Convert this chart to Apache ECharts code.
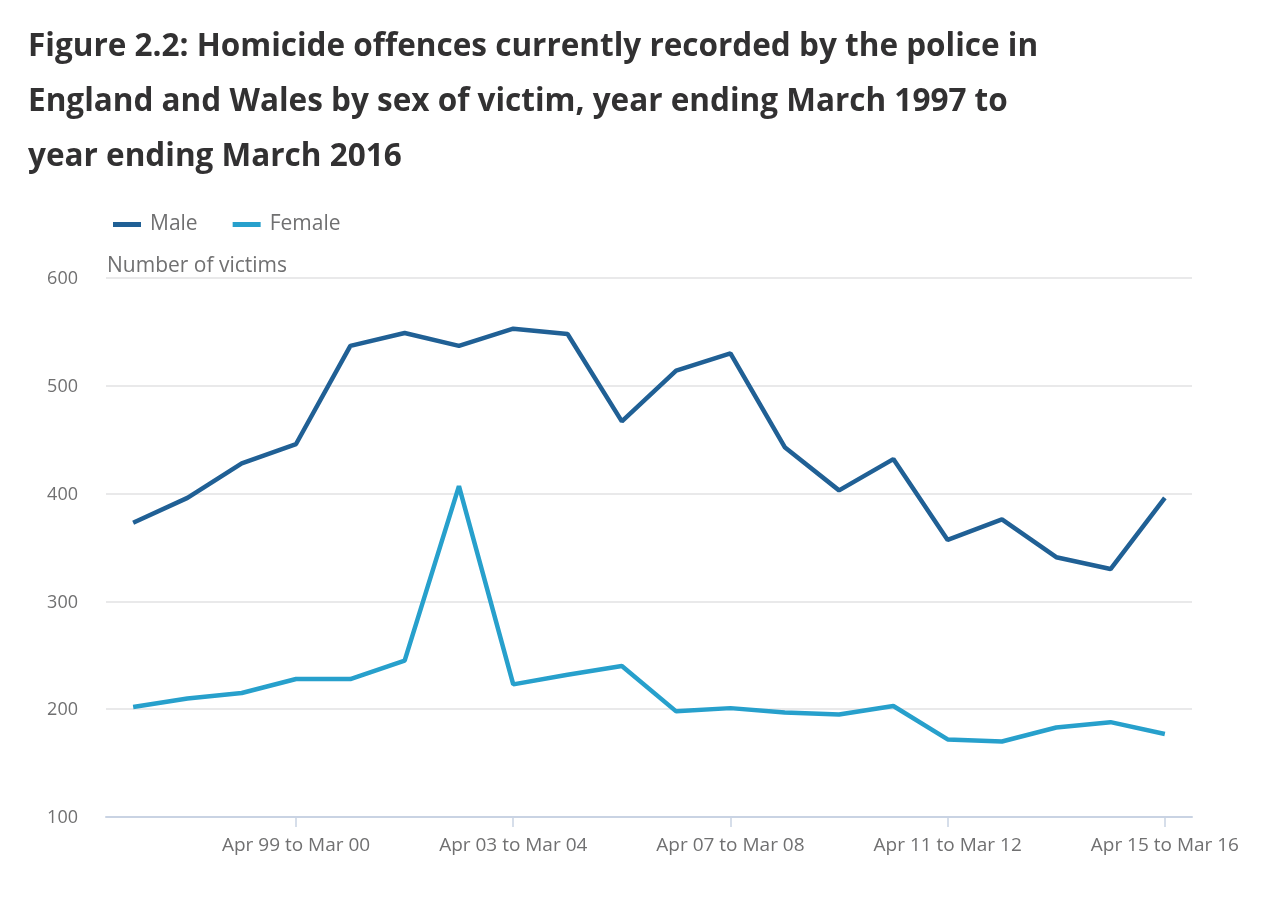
<!DOCTYPE html>
<html>
<head>
<meta charset="utf-8">
<script src="https://cdn.jsdelivr.net/npm/echarts@6/dist/echarts.min.js"></script>
<style>
html,body{margin:0;padding:0;background:#fff;}
#chart{width:1276px;height:906px;}
</style>
</head>
<body>
<div id="chart"></div>
<script>
const categories = [
  "Apr 96 to Mar 97","Apr 97 to Mar 98","Apr 98 to Mar 99","Apr 99 to Mar 00",
  "Apr 00 to Mar 01","Apr 01 to Mar 02","Apr 02 to Mar 03","Apr 03 to Mar 04",
  "Apr 04 to Mar 05","Apr 05 to Mar 06","Apr 06 to Mar 07","Apr 07 to Mar 08",
  "Apr 08 to Mar 09","Apr 09 to Mar 10","Apr 10 to Mar 11","Apr 11 to Mar 12",
  "Apr 12 to Mar 13","Apr 13 to Mar 14","Apr 14 to Mar 15","Apr 15 to Mar 16"
];
const maleVictims = [373, 396, 428, 446, 537, 549, 537, 553, 548, 467, 514, 530, 443, 403, 432, 357, 376, 341, 330, 396];
const femaleVictims = [202, 210, 215, 228, 228, 245, 407, 223, 232, 240, 198, 201, 197, 195, 203, 172, 170, 183, 188, 177];
const yTicks = [100, 200, 300, 400, 500, 600];

const chart = echarts.init(document.getElementById('chart'), null, {renderer: 'canvas'});
const FONT = '"Open Sans", sans-serif';
chart.setOption({
  animation: false,
  textStyle: {fontFamily: FONT},
  title: {
    text: 'Figure 2.2: Homicide offences currently recorded by the police in\nEngland and Wales by sex of victim, year ending March 1997 to\nyear ending March 2016',
    left: 28, top: 20, padding: 0,
    textStyle: {fontFamily: FONT, fontWeight: 'bold', fontSize: 31.5, lineHeight: 55, color: '#323132'}
  },
  legend: {
    left: 108, top: 209,
    itemWidth: 28, itemHeight: 5, itemGap: 35,
    icon: 'rect',
    textStyle: {fontFamily: FONT, fontSize: 21, color: '#707071', padding: [0,0,0,4]},
    data: ['Male', 'Female']
  },
  graphic: [{
    type: 'text', left: 107, top: 256,
    style: {text: 'Number of victims', font: '21px "Open Sans", sans-serif', fill: '#707071'}
  }],
  grid: {left: 106, right: 84, top: 278, bottom: 89, containLabel: false},
  xAxis: {
    type: 'category',
    data: categories,
    boundaryGap: true,
    axisLine: {lineStyle: {color: '#c9d3e3', width: 2}},
    axisTick: {show: true, alignWithLabel: true, length: 10, interval: (i) => i % 4 === 3, lineStyle: {color: '#c9d3e3', width: 1.5}},
    axisLabel: {interval: (i) => i % 4 === 3, fontFamily: FONT, fontSize: 19, color: '#707071', margin: 19}
  },
  yAxis: {
    type: 'value',
    min: yTicks[0], max: yTicks[yTicks.length - 1], interval: 100,
    axisLine: {show: false},
    axisTick: {show: false},
    splitLine: {lineStyle: {color: '#e2e2e3', width: 1.5}},
    axisLabel: {fontFamily: FONT, fontSize: 18, color: '#707071', margin: 28, verticalAlign: 'top', padding: [-8,0,0,0]}
  },
  series: [
    {name: 'Male', type: 'line', data: maleVictims, showSymbol: false, symbol: 'none',
     lineStyle: {color: '#206095', width: 4.5}, itemStyle: {color: '#206095'}},
    {name: 'Female', type: 'line', data: femaleVictims, showSymbol: false, symbol: 'none',
     lineStyle: {color: '#27a0cc', width: 4.5}, itemStyle: {color: '#27a0cc'}}
  ]
});
</script>
</body>
</html>
